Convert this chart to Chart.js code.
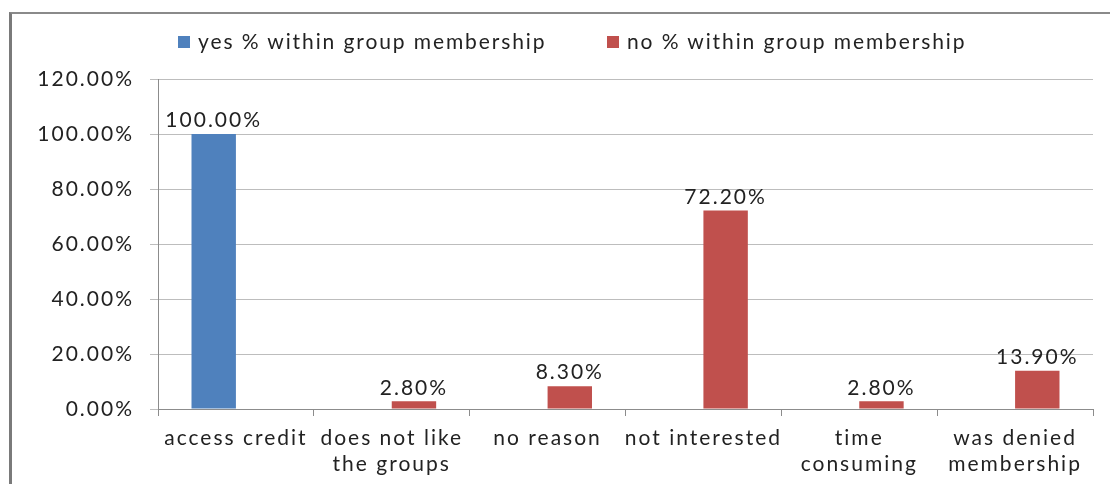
<!DOCTYPE html>
<html lang="en">
<head>
    <meta charset="UTF-8">
    <title>Reasons for group membership</title>
    <script src="https://cdn.jsdelivr.net/npm/chart.js"></script>
    <style>
        body {
            margin: 0;
            background: #fff;
            font-family: Lato, sans-serif;
        }
        .wrap {
            position: relative;
            width: 1110px;
            height: 484px;
            overflow: hidden;
        }
        .frame {
            position: absolute;
            left: 9px;
            top: 12px;
            width: 1200px;
            height: 600px;
            border-left: 3px solid #7a7a7a;
            border-top: 2px solid #8a8a8a;
            pointer-events: none;
        }
        .legend-item {
            position: absolute;
            top: 28px;
            font-size: 21px;
            letter-spacing: 1.9px;
            color: #222;
            white-space: nowrap;
            line-height: 26px;
        }
        .legend-item span.box {
            display: inline-block;
            width: 12px;
            height: 12px;
            margin-right: 8px;
            vertical-align: 1px;
        }
    </style>
</head>
<body>
<div class="wrap">
    <canvas id="chart" width="1110" height="484"></canvas>
    <div class="frame"></div>
    <div id="legend"></div>
</div>
<script>
    // data
    const categories = [
        'access credit',
        ['does not like', 'the groups'],
        'no reason',
        'not interested',
        ['time', 'consuming'],
        ['was denied', 'membership']
    ];
    const yesValues = [100, null, null, null, null, null];
    const noValues = [null, 2.8, 8.3, 72.2, 2.8, 13.9];
    const seriesNames = ['yes % within group membership', 'no % within group membership'];
    const seriesColors = ['#4F81BD', '#C0504D'];

    // legend (html)
    const legendLeft = [178, 607];
    const legendEl = document.getElementById('legend');
    seriesNames.forEach((name, i) => {
        const item = document.createElement('div');
        item.className = 'legend-item';
        item.style.left = legendLeft[i] + 'px';
        item.innerHTML = '<span class="box" style="background:' + seriesColors[i] + '"></span>' + name;
        legendEl.appendChild(item);
    });

    const tickFont = { family: 'Lato', size: 21 };

    // wider letter spacing, the original text is stretched
    const spacing = {
        id: 'spacing',
        beforeDraw(chart) { chart.ctx.letterSpacing = '2px'; }
    };

    // value labels above bars
    const barLabels = {
        id: 'barLabels',
        afterDatasetsDraw(chart) {
            const ctx = chart.ctx;
            ctx.save();
            ctx.font = '21px Lato';
            ctx.letterSpacing = '2px';
            ctx.fillStyle = '#222';
            ctx.textAlign = 'center';
            ctx.textBaseline = 'bottom';
            chart.data.datasets.forEach((ds, di) => {
                chart.getDatasetMeta(di).data.forEach((bar, i) => {
                    const v = ds.data[i];
                    if (v === null) return;
                    ctx.fillText(v.toFixed(2) + '%', bar.x, bar.y - 3);
                });
            });
            ctx.restore();
        }
    };

    new Chart(document.getElementById('chart'), {
        type: 'bar',
        data: {
            labels: categories,
            datasets: [
                {
                    label: seriesNames[0],
                    data: yesValues,
                    backgroundColor: seriesColors[0],
                    categoryPercentage: 0.57,
                    barPercentage: 1
                },
                {
                    label: seriesNames[1],
                    data: noValues,
                    backgroundColor: seriesColors[1],
                    categoryPercentage: 0.57,
                    barPercentage: 1
                }
            ]
        },
        options: {
            responsive: false,
            animation: false,
            layout: {
                padding: { top: 79, right: 17, left: 0, bottom: 0 }
            },
            plugins: {
                legend: { display: false },
                tooltip: { enabled: false }
            },
            scales: {
                x: {
                    grid: {
                        drawOnChartArea: false,
                        drawTicks: true,
                        tickLength: 7,
                        color: '#8c8c8c'
                    },
                    border: { color: '#8c8c8c' },
                    ticks: {
                        color: '#222',
                        font: tickFont,
                        padding: 10,
                        maxRotation: 0,
                        autoSkip: false
                    },
                    afterFit(scale) { scale.height = 75; }
                },
                y: {
                    min: 0,
                    max: 120,
                    ticks: {
                        stepSize: 20,
                        color: '#222',
                        font: tickFont,
                        padding: 16,
                        callback: v => v.toFixed(2) + '%'
                    },
                    grid: {
                        color: '#bdbdbd',
                        tickLength: 8
                    },
                    border: { color: '#8c8c8c' },
                    afterFit(scale) { scale.width = 158; }
                }
            }
        },
        plugins: [spacing, barLabels]
    });
</script>
</body>
</html>
